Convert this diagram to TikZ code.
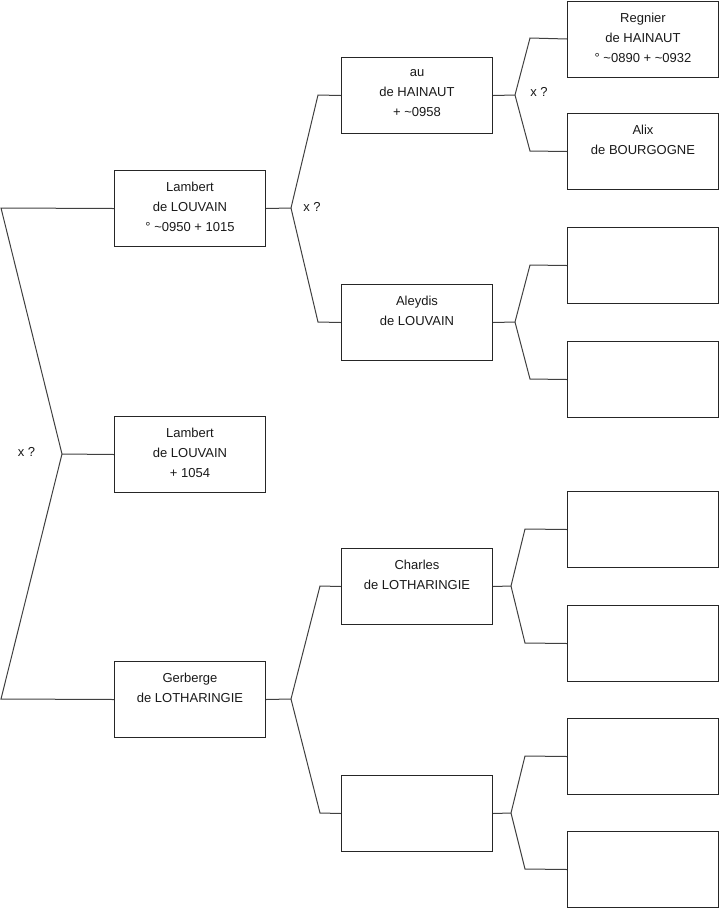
\documentclass[tikz,border=0pt]{standalone}
\usepackage{fontspec}
\setmainfont{Liberation Sans}
\begin{document}
\begin{tikzpicture}[x=0.75pt,y=-0.75pt,
  box/.style={draw=black!85,line width=0.75pt,minimum width=151*0.75pt,minimum height=76*0.75pt,inner sep=0pt,anchor=north west},
  btext/.style={anchor=north,inner sep=0pt,align=center,font=\fontsize{9.75pt}{15pt}\selectfont,text=black!90,yshift=-12*0.75pt},
  lnk/.style={draw=black!75,line width=0.75pt},
  xq/.style={font=\fontsize{9.75pt}{15pt}\selectfont,text=black!90,inner sep=0pt}]
\useasboundingbox (0,0) rectangle (719,908);
% boxes
\node[box] (A) at (114,170) {};
\node[box] (B) at (114,416) {};
\node[box] (C) at (114,661) {};
\node[box] (D) at (341,57) {};
\node[box] (E) at (341,284) {};
\node[box] (F) at (341,548) {};
\node[box] (G) at (341,775) {};
\node[box] (H) at (567,0.5) {};
\node[box] (I) at (567,113) {};
\node[box] (J) at (567,227) {};
\node[box] (K) at (567,341) {};
\node[box] (L) at (567,491) {};
\node[box] (M) at (567,605) {};
\node[box] (N) at (567,718) {};
\node[box] (O) at (567,831) {};
% texts
\node[btext] (tA) at (A.north) {Lambert\\de LOUVAIN\\° \textasciitilde0950 + 1015};
\node[btext] (tB) at (B.north) {Lambert\\de LOUVAIN\\+ 1054};
\node[btext] (tC) at (C.north) {Gerberge\\de LOTHARINGIE};
\node[btext] (tD) at (D.north) {au\\de HAINAUT\\+ \textasciitilde0958};
\node[btext] (tE) at (E.north) {Aleydis\\de LOUVAIN};
\node[btext] (tF) at (F.north) {Charles\\de LOTHARINGIE};
\node[btext] (tH) at (H.north) {Regnier\\de HAINAUT\\° \textasciitilde0890 + \textasciitilde0932};
\node[btext] (tI) at (I.north) {Alix\\de BOURGOGNE};
% fork coordinates
\coordinate (r0) at (62,454);
\coordinate (r1) at (1,208);
\coordinate (r2) at (1,699);
\coordinate (fA) at (291,208);
\coordinate (fA1) at (318,95);
\coordinate (fA2) at (318,322);
\coordinate (fC) at (291,699);
\coordinate (fC1) at (320,586);
\coordinate (fC2) at (320,813);
\coordinate (fD) at (515,95);
\coordinate (fD1) at (530,38);
\coordinate (fD2) at (530,151);
\coordinate (fE) at (515,322);
\coordinate (fE1) at (530,265);
\coordinate (fE2) at (530,379);
\coordinate (fF) at (511,586);
\coordinate (fF1) at (525,529);
\coordinate (fF2) at (525,643);
\coordinate (fG) at (511,813);
\coordinate (fG1) at (525,756);
\coordinate (fG2) at (525,869);
% connectors
\draw[lnk] (A.west) -- (r1) -- (r0) -- (r2) -- (C.west);
\draw[lnk] (r0) -- (B.west);
\draw[lnk] (A.east) -- (fA);
\draw[lnk] (fA) -- (fA1) -- (D.west);
\draw[lnk] (fA) -- (fA2) -- (E.west);
\draw[lnk] (C.east) -- (fC);
\draw[lnk] (fC) -- (fC1) -- (F.west);
\draw[lnk] (fC) -- (fC2) -- (G.west);
\draw[lnk] (D.east) -- (fD);
\draw[lnk] (fD) -- (fD1) -- (H.west);
\draw[lnk] (fD) -- (fD2) -- (I.west);
\draw[lnk] (E.east) -- (fE);
\draw[lnk] (fE) -- (fE1) -- (J.west);
\draw[lnk] (fE) -- (fE2) -- (K.west);
\draw[lnk] (F.east) -- (fF);
\draw[lnk] (fF) -- (fF1) -- (L.west);
\draw[lnk] (fF) -- (fF2) -- (M.west);
\draw[lnk] (G.east) -- (fG);
\draw[lnk] (fG) -- (fG1) -- (N.west);
\draw[lnk] (fG) -- (fG2) -- (O.west);
% labels
\node[xq] (x1) at (26.5,452) {x ?};
\node[xq] (x2) at (312,207) {x ?};
\node[xq] (x3) at (539,92) {x ?};
\end{tikzpicture}
\end{document}
